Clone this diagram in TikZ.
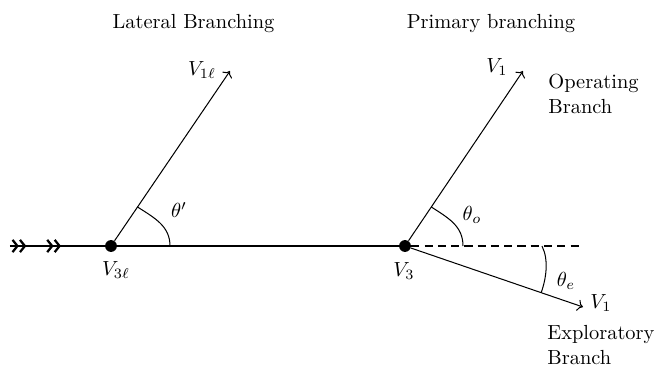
\documentclass[tikz,border=0pt]{standalone}
\usetikzlibrary{arrows.meta,decorations.markings,calc}
\begin{document}
\begin{tikzpicture}[x=0.49pt,y=-0.49pt,
  mainline/.style={line width=1pt},
  branch/.style={line width=0.5pt,->},
  anglearc/.style={line width=0.5pt},
  vdot/.style={circle,fill=black,inner sep=0pt,minimum size=5.8pt},
  lbl/.style={inner sep=0pt},
  dchev/.style={postaction={decorate},decoration={markings,
     mark=at position 8pt with {\arrow{Straight Barb[length=2.4pt,width=6pt,line width=1.1pt]Straight Barb[length=2.4pt,width=6pt,line width=1.1pt]}},
     mark=at position 25pt with {\arrow{Straight Barb[length=2.4pt,width=6pt,line width=1.1pt]Straight Barb[length=2.4pt,width=6pt,line width=1.1pt]}}}}]
\useasboundingbox (0,0) rectangle (654,368);

\coordinate (S) at (10,246);
\coordinate (D) at (583,246);
\coordinate (L1) at (230,71);
\coordinate (P1) at (523,71);
\coordinate (E1) at (583,307);
\node[vdot] (V3l) at (111,246) {};
\node[vdot] (V3) at (405,246) {};

\draw[mainline,dchev] (S) -- (V3l);
\draw[mainline] (V3l) -- (V3);
\draw[mainline,dash pattern=on 4pt off 2.5pt] (V3) -- (D);

\draw[branch] (V3l) -- (L1);
\draw[branch] (V3) -- (P1);
\draw[branch] (V3) -- (E1);

% angle arcs
\coordinate (a1s) at ($(V3l)!0.223!(L1)$);
\coordinate (a1e) at (170,246);
\draw[anglearc] (a1s) .. controls ($(a1s)+(17,11)$) and ($(a1e)+(0,-20)$) .. (a1e);
\coordinate (a2s) at ($(V3)!0.223!(P1)$);
\coordinate (a2e) at (463,246);
\draw[anglearc] (a2s) .. controls ($(a2s)+(17,11)$) and ($(a2e)+(0,-20)$) .. (a2e);
\coordinate (a3s) at (542,246);
\coordinate (a3e) at ($(V3)!0.765!(E1)$);
\draw[anglearc] (a3s) .. controls ($(a3s)+(7,14)$) and ($(a3e)+(5,-14)$) .. (a3e);

% labels
\node[lbl] (tl) at (193.5,23.5) {Lateral Branching};
\node[lbl] (tp) at (491,24) {Primary branching};
\node[lbl] (lv1l) at (202,70) {$V_{1\ell}$};
\node[lbl] (lv1) at (497,67) {$V_1$};
\node[lbl] (lv3l) at (116,270) {$V_{3\ell}$};
\node[lbl] (lv3) at (404,271) {$V_3$};
\node[lbl] (lth1) at (179,210) {$\theta'$};
\node[lbl] (lth2) at (472,215) {$\theta_o$};
\node[lbl] (lth3) at (566,281) {$\theta_e$};
\node[lbl] (lv1e) at (601,303) {$V_1$};
\node[lbl,align=left,anchor=west] (op) at (548,94) {Operating\\Branch};
\node[lbl,align=left,anchor=west] (ex) at (547,345) {Exploratory\\Branch};
\end{tikzpicture}
\end{document}
